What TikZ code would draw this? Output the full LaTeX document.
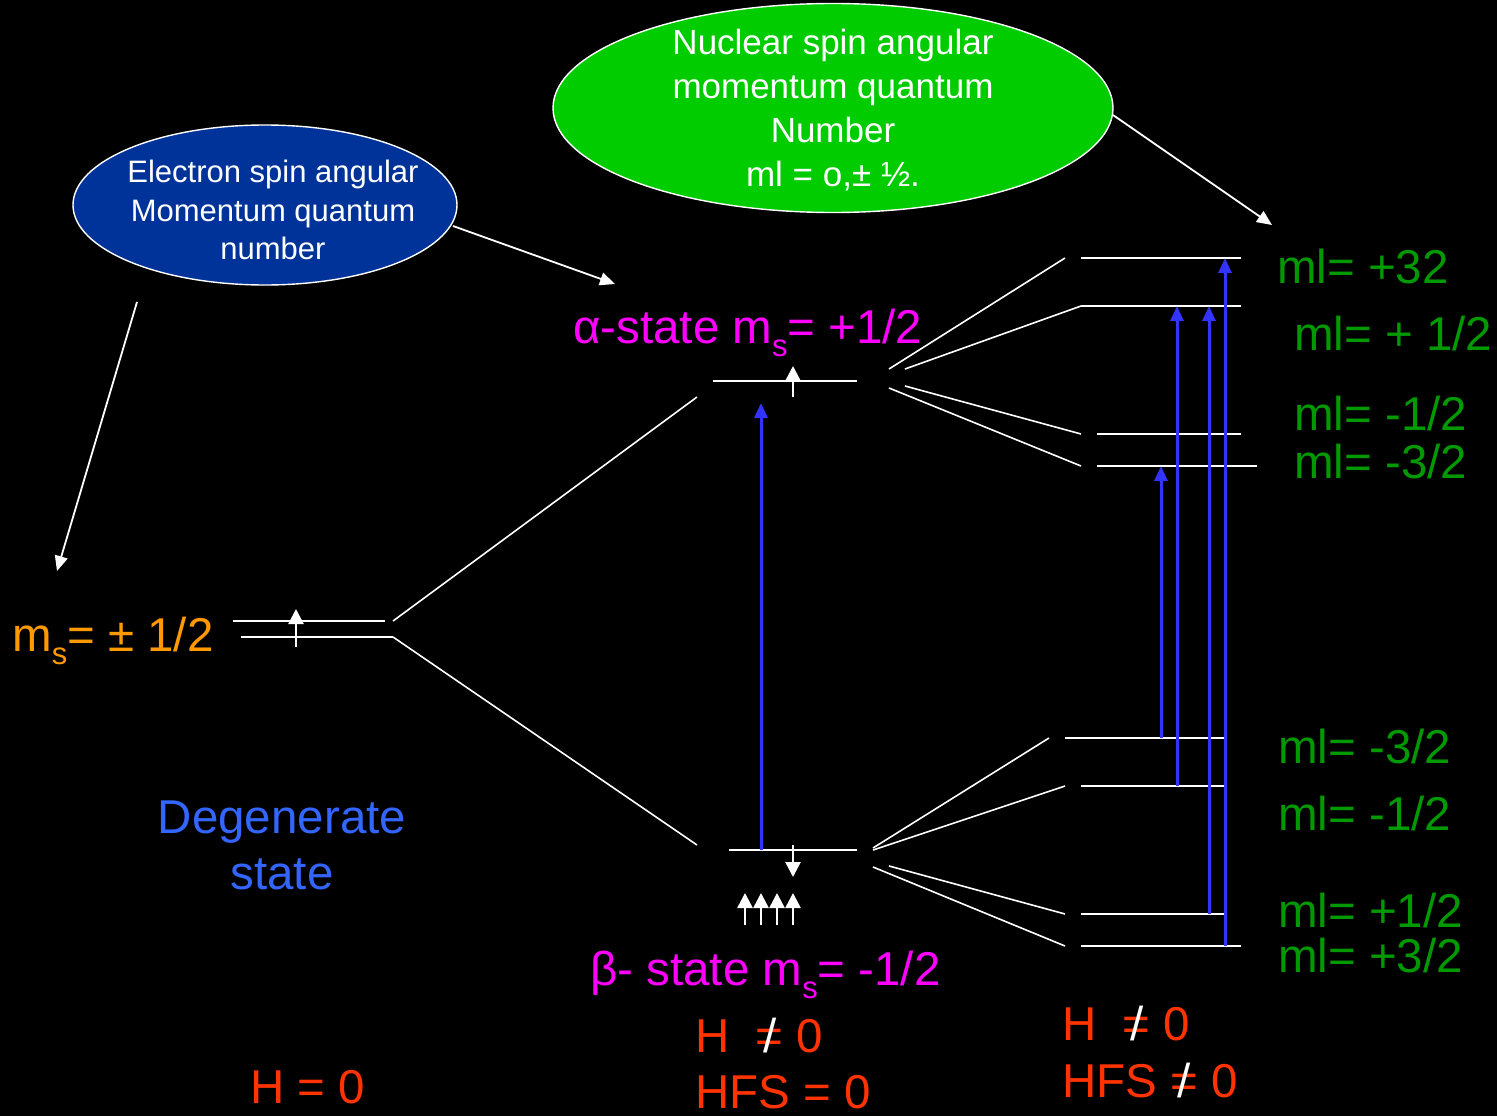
\documentclass[tikz,border=0pt]{standalone}
\usepackage{fontspec}
\setmainfont{Liberation Sans}
\usetikzlibrary{arrows.meta,shapes.geometric}
\definecolor{msorange}{RGB}{255,153,0}
\definecolor{magentaT}{RGB}{255,0,255}
\definecolor{redT}{RGB}{255,51,0}
\definecolor{greenT}{RGB}{0,153,0}
\definecolor{degblue}{RGB}{51,102,255}
\definecolor{transblue}{RGB}{51,51,255}
\definecolor{ellblue}{RGB}{0,51,153}
\definecolor{ellgreen}{RGB}{0,204,0}
\newcommand{\sbs}[1]{\raisebox{-0.28em}{\fontsize{31}{31}\selectfont #1}}
\newcommand{\neqw}{\ooalign{=\cr\hidewidth\textcolor{white}{/}\hidewidth\cr}}
\begin{document}
\begin{tikzpicture}[x=1pt,y=-1pt,
  level/.style={white,line width=2.6pt},
  conn/.style={white,line width=1.6pt},
  trans/.style={transblue,line width=3pt,-{Triangle[width=13pt,length=15pt]}},
  spin/.style={white,line width=2.6pt,-{Triangle[width=15pt,length=15pt]}},
  call/.style={white,line width=1.8pt,-{Triangle[width=13pt,length=15pt]}},
  lbl/.style={anchor=base west,inner sep=0pt,font=\fontsize{47.5}{52}\selectfont},
  ml/.style={lbl,text=greenT},
  ell/.style={ellipse,draw=white,line width=1.4pt,inner sep=0pt},
  elltext/.style={inner sep=0pt,align=center,text=white}]
\fill[black] (0,0) rectangle (1497,1116);
\useasboundingbox (0,0) rectangle (1497,1116);

% ellipses
\node[ell,fill=ellblue,minimum width=384pt,minimum height=160pt] (be) at (265,205) {};
\node[elltext,font=\fontsize{31}{38.5}\selectfont] (bet) at (273,210)
  {Electron spin angular\\Momentum quantum\\number};
\node[ell,fill=ellgreen,minimum width=560pt,minimum height=209pt] (ge) at (833,108) {};
\node[elltext,font=\fontsize{35}{44}\selectfont] (get) at (833,110)
  {Nuclear spin angular\\momentum quantum\\Number\\ml = o,± ½.};

% callout arrows
\coordinate (c1s) at (453,226); \coordinate (c1e) at (615,284);
\coordinate (c2s) at (137,302); \coordinate (c2e) at (57,571);
\coordinate (c3s) at (1113,115); \coordinate (c3e) at (1272,225);
\draw[call] (c1s) -- (c1e);
\draw[call] (c2s) -- (c2e);
\draw[call] (c3s) -- (c3e);

% degenerate levels
\coordinate (l0aL) at (233,621); \coordinate (l0aR) at (385,621);
\coordinate (l0bL) at (241,637); \coordinate (l0bR) at (393,637);
\draw[level] (l0aL) -- (l0aR);
\draw[level] (l0bL) -- (l0bR);
\draw[spin] (296,647) -- (296,609);

% alpha / beta levels
\coordinate (aL) at (713,381); \coordinate (aR) at (857,381);
\coordinate (bL) at (729,850); \coordinate (bR) at (857,850);
\draw[level] (aL) -- (aR);
\draw[level] (bL) -- (bR);
\draw[spin] (793,397) -- (793,366);
\draw[spin] (793,845) -- (793,877);
\foreach \x in {745,761,777,793} \draw[spin] (\x,925) -- (\x,893);

% connectors from degenerate level
\coordinate (d1) at (393,621); \coordinate (d2) at (697,397);
\coordinate (d3) at (697,845);
\draw[conn] (d1) -- (d2);
\draw[conn] (l0bR) -- (d3);

% upper hyperfine levels
\coordinate (r1L) at (1081,258); \coordinate (r1R) at (1241,258);
\coordinate (r2L) at (1081,306); \coordinate (r2R) at (1241,306);
\coordinate (r3L) at (1097,434); \coordinate (r3R) at (1241,434);
\coordinate (r4L) at (1097,466); \coordinate (r4R) at (1257,466);
\foreach \n in {1,2,3,4} \draw[level] (r\n L) -- (r\n R);
\draw[conn] (889,369) -- (1065,258);
\draw[conn] (905,369) -- (r2L);
\draw[conn] (905,386) -- (1081,434);
\draw[conn] (889,388) -- (1081,466);

% lower hyperfine levels
\coordinate (s1L) at (1065,738); \coordinate (s1R) at (1225,738);
\coordinate (s2L) at (1081,786); \coordinate (s2R) at (1225,786);
\coordinate (s3L) at (1081,914); \coordinate (s3R) at (1225,914);
\coordinate (s4L) at (1081,946); \coordinate (s4R) at (1241,946);
\foreach \n in {1,2,3,4} \draw[level] (s\n L) -- (s\n R);
\draw[conn] (873,848) -- (1049,738);
\draw[conn] (873,850) -- (1065,786);
\draw[conn] (889,866) -- (1065,914);
\draw[conn] (873,867) -- (1065,946);

% transitions
\draw[trans] (761,850) -- (761,403);
\draw[trans] (1161,738) -- (1161,466);
\draw[trans] (1177,786) -- (1177,306);
\draw[trans] (1209,914) -- (1209,306);
\draw[trans] (1225,946) -- (1225,258);

% labels
\node[lbl,text=msorange] (msl) at (12,651) {m\sbs{s}= ± 1/2};
\node[lbl,text=magentaT] (al) at (573,343) {α-state m\sbs{s}= +1/2};
\node[lbl,text=magentaT] (bl) at (590,985) {β- state m\sbs{s}= -1/2};
\node[lbl,text=degblue,anchor=base] (deg) at (282,833) {Degenerate};
\node[lbl,text=degblue,anchor=base] (deg2) at (282,889) {state};
\node[lbl,text=redT] (h0) at (250,1103) {H = 0};
\node[lbl,text=redT] (h1) at (695,1052) {H \ \neqw{} 0};
\node[lbl,text=redT] (h2) at (695,1108) {HFS = 0};
\node[lbl,text=redT] (h3) at (1062,1040) {H \ \neqw{} 0};
\node[lbl,text=redT] (h4) at (1062,1097) {HFS \neqw{} 0};

\node[ml] (m1) at (1277,283) {ml= +32};
\node[ml] (m2) at (1294,350) {ml= + 1/2};
\node[ml] (m3) at (1294,430) {ml= -1/2};
\node[ml] (m4) at (1294,478) {ml= -3/2};
\node[ml] (m5) at (1278,763) {ml= -3/2};
\node[ml] (m6) at (1278,830) {ml= -1/2};
\node[ml] (m7) at (1278,927) {ml= +1/2};
\node[ml] (m8) at (1278,972) {ml= +3/2};
\end{tikzpicture}
\end{document}
